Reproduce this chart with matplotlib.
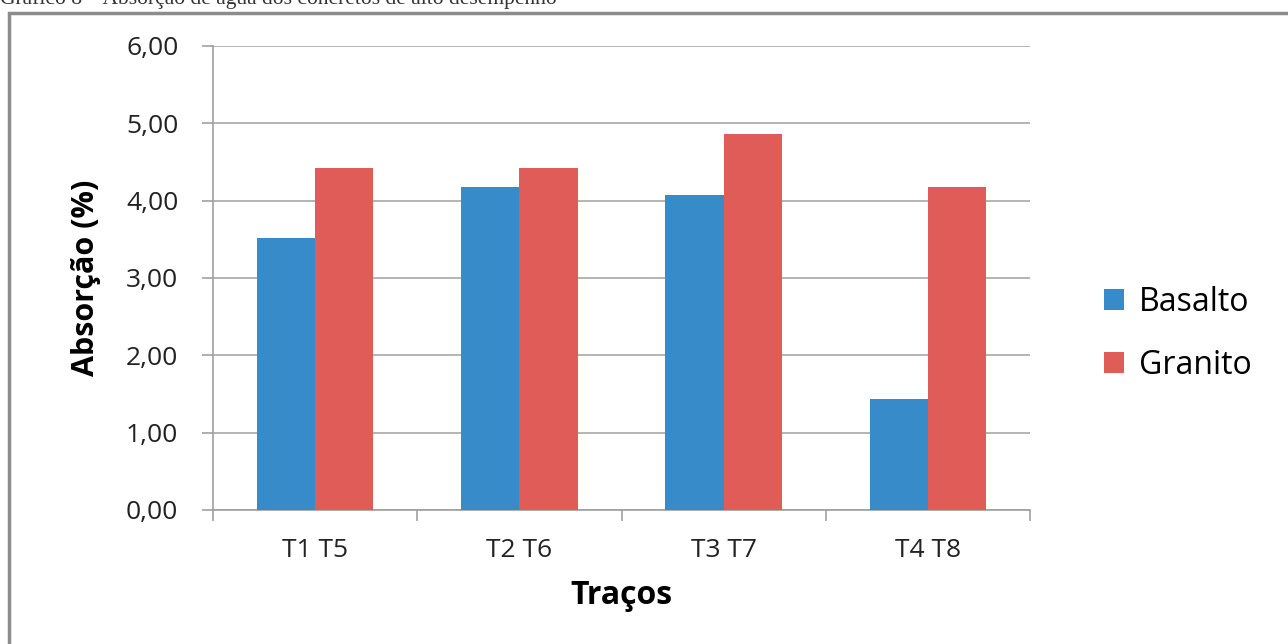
import matplotlib.pyplot as plt
import numpy as np
from matplotlib.patches import Rectangle

categorias = ['T1 T5', 'T2 T6', 'T3 T7', 'T4 T8']
basalto = [3.52, 4.18, 4.07, 1.43]
granito = [4.42, 4.42, 4.86, 4.18]
yticks = [0, 1, 2, 3, 4, 5, 6]

plt.rcParams['font.family'] = ['Open Sans', 'DejaVu Sans']

fig = plt.figure(figsize=(12.88, 6.44), dpi=100)
ax = fig.add_axes([213/1288, 1 - 510/644, (1030 - 213)/1288, (510 - 46)/644])

x = np.arange(len(categorias))
w = 0.285
ax.bar(x - w/2, basalto, w, color='#378bc8', label='Basalto', zorder=3)
ax.bar(x + w/2, granito, w, color='#e05c58', label='Granito', zorder=3)

ax.set_xlim(-0.5, len(categorias) - 0.5)
ax.set_ylim(0, 6)
ax.set_yticks(yticks)
ax.set_yticklabels([f'{v:.2f}'.replace('.', ',') for v in yticks], fontsize=19, color='#222222')
ax.set_xticks(x)
ax.set_xticklabels(categorias, fontsize=19, color='#222222')
ax.set_xticks(np.arange(-0.5, len(categorias)), minor=True)
ax.tick_params(axis='x', which='major', length=0, pad=20)
ax.tick_params(axis='x', which='minor', length=8, color='#a0a0a0', width=1.2)
ax.tick_params(axis='y', length=8, color='#a0a0a0', width=1.2, pad=17)
ax.grid(axis='y', color='#a8a8a8', linewidth=1.2, zorder=0)

for s in ['top', 'right']:
    ax.spines[s].set_visible(False)
for s in ['left', 'bottom']:
    ax.spines[s].set_color('#a0a0a0')
    ax.spines[s].set_linewidth(1.2)

ax.set_ylabel('Absorção (%)', fontsize=22, fontweight='bold', labelpad=18)
ax.set_xlabel('Traços', fontsize=23, fontweight='bold', labelpad=12)

ax.legend(loc='center left', bbox_to_anchor=(1.055, 0.38), frameon=False,
          fontsize=23, handlelength=0.65, handleheight=0.65, labelspacing=0.95,
          handletextpad=0.45)

# moldura do gráfico (só topo e esquerda visíveis)
fig.patches.append(Rectangle((9/1288, -0.1), 1.2, 1 - 13/644 + 0.1,
                             transform=fig.transFigure, fill=False,
                             edgecolor='#8c8c8c', linewidth=2.5))

# legenda do documento cortada no topo
fig.text(0.0, 1.0 + 1/644, 'Gráfico 8 – Absorção de água dos concretos de alto desempenho',
         family=['Liberation Serif', 'DejaVu Serif'], fontsize=15.5, color='#333333',
         va='center', ha='left')

fig.savefig('out.png', dpi=100)
